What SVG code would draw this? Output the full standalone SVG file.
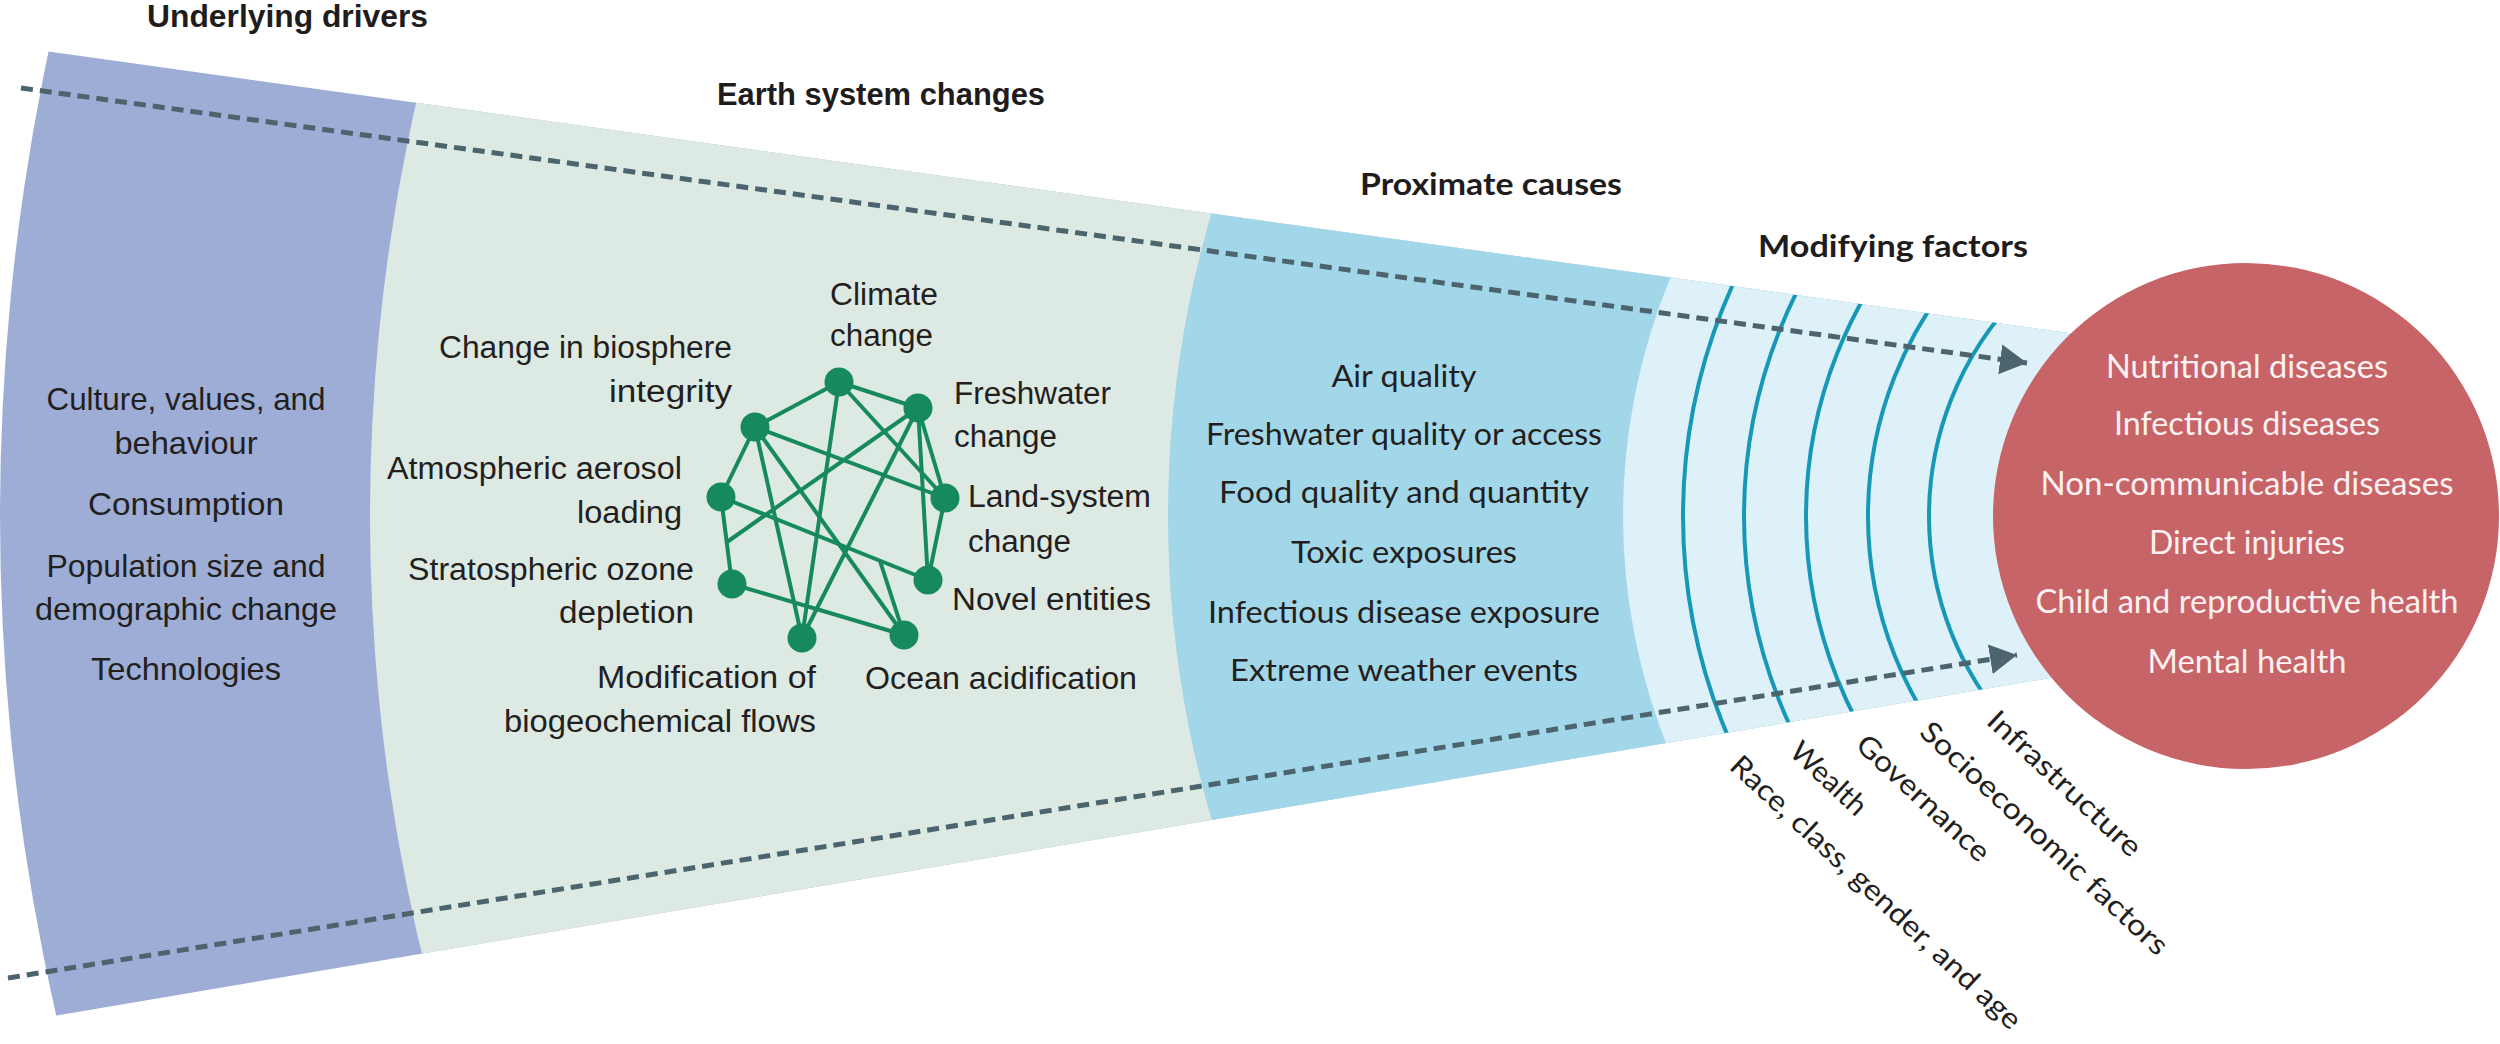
<svg xmlns="http://www.w3.org/2000/svg" width="2500" height="1044" viewBox="0 0 2500 1044">
<defs>
<style>
.hl{font-family:"Liberation Sans",Arial,sans-serif;font-weight:700;font-size:32px;fill:#1f1c1d}
.hr{font-family:Lato,"DejaVu Sans",sans-serif;font-weight:700;font-size:31px;fill:#1f1c1d}
.lt{font-family:"Liberation Sans",Arial,sans-serif;font-size:32px;fill:#231f20}
.et{font-family:"Liberation Sans",Arial,sans-serif;font-size:31px;fill:#231f20}
.rt{font-family:Lato,"DejaVu Sans",sans-serif;font-size:31px;fill:#231f20;text-anchor:middle}
.ct{font-family:Lato,"DejaVu Sans",sans-serif;font-size:32px;fill:#fdf1f1;text-anchor:middle}
.bt{font-family:Lato,"DejaVu Sans",sans-serif;font-size:29px;fill:#231f20}
.mid{text-anchor:middle}
.end{text-anchor:end}
.dash{fill:none;stroke:#4b646e;stroke-width:5;stroke-dasharray:12 7}
.arc{fill:none;stroke:#1698b7;stroke-width:4}
.edge{stroke:#16895f;stroke-width:4;fill:none}
.node{fill:#16895f}
</style>
<clipPath id="funnelClip">
<polygon points="0,44.8 2246,357.7 2246,644.7 0,1025.1"/>
</clipPath>
<marker id="arrow" markerUnits="userSpaceOnUse" markerWidth="30" markerHeight="32" refX="27" refY="15" orient="auto">
<path d="M0,0 L27,15 L0,30 Z" fill="#4b646e"/>
</marker>
</defs>
<rect x="0" y="0" width="2500" height="1044" fill="#ffffff"/>

<g id="funnel" clip-path="url(#funnelClip)">
<circle id="band-drivers" cx="2246" cy="516" r="2246" fill="#9dadd5"/>
<circle id="band-earth" cx="2246" cy="516" r="1876" fill="#dde9e3"/>
<circle id="band-proximate" cx="2246" cy="516" r="1078" fill="#a2d7e9"/>
<circle id="band-modifying" cx="2246" cy="516" r="623" fill="#def0f8"/>
<g id="modifier-arcs">
<circle class="arc" cx="2246" cy="516" r="563"/>
<circle class="arc" cx="2246" cy="516" r="502"/>
<circle class="arc" cx="2246" cy="516" r="440"/>
<circle class="arc" cx="2246" cy="516" r="378"/>
<circle class="arc" cx="2246" cy="516" r="317"/>
</g>
</g>

<g id="connectors">
<line class="dash" x1="21" y1="88" x2="2027" y2="363" marker-end="url(#arrow)"/>
<line class="dash" x1="8" y1="978" x2="2017" y2="655" marker-end="url(#arrow)"/>
</g>

<g id="headings">
<text class="hl" x="147" y="27" textLength="281" lengthAdjust="spacingAndGlyphs">Underlying drivers</text>
<text class="hl" x="717" y="105" textLength="328" lengthAdjust="spacingAndGlyphs">Earth system changes</text>
<text class="hr" x="1360" y="195" textLength="262" lengthAdjust="spacingAndGlyphs">Proximate causes</text>
<text class="hr" x="1758" y="257" textLength="270" lengthAdjust="spacingAndGlyphs">Modifying factors</text>
</g>

<g id="underlying-drivers">
<text class="lt mid" x="186" y="410" textLength="279" lengthAdjust="spacingAndGlyphs">Culture, values, and</text>
<text class="lt mid" x="186" y="454" textLength="143" lengthAdjust="spacingAndGlyphs">behaviour</text>
<text class="lt mid" x="186" y="515" textLength="196" lengthAdjust="spacingAndGlyphs">Consumption</text>
<text class="lt mid" x="186" y="577" textLength="279" lengthAdjust="spacingAndGlyphs">Population size and</text>
<text class="lt mid" x="186" y="620" textLength="302" lengthAdjust="spacingAndGlyphs">demographic change</text>
<text class="lt mid" x="186" y="680" textLength="190" lengthAdjust="spacingAndGlyphs">Technologies</text>
</g>

<g id="earth-network">
<g id="network-edges">
<line class="edge" x1="839" y1="382" x2="755" y2="427"/>
<line class="edge" x1="839" y1="382" x2="918" y2="408"/>
<line class="edge" x1="839" y1="382" x2="802" y2="638"/>
<line class="edge" x1="839" y1="382" x2="945" y2="498"/>
<line class="edge" x1="755" y1="427" x2="721" y2="497"/>
<line class="edge" x1="755" y1="427" x2="945" y2="498"/>
<line class="edge" x1="755" y1="427" x2="802" y2="638"/>
<line class="edge" x1="755" y1="427" x2="904" y2="635"/>
<line class="edge" x1="918" y1="408" x2="727" y2="542"/>
<line class="edge" x1="918" y1="408" x2="802" y2="638"/>
<line class="edge" x1="918" y1="408" x2="945" y2="498"/>
<line class="edge" x1="918" y1="408" x2="928" y2="580"/>
<line class="edge" x1="721" y1="497" x2="732" y2="584"/>
<line class="edge" x1="721" y1="497" x2="928" y2="580"/>
<line class="edge" x1="732" y1="584" x2="904" y2="635"/>
<line class="edge" x1="945" y1="498" x2="928" y2="580"/>
<line class="edge" x1="880" y1="561" x2="904" y2="635"/>
</g>
<g id="node-climate"><circle class="node" cx="839" cy="382" r="14.5"/>
<text class="et" x="830" y="305" textLength="108" lengthAdjust="spacingAndGlyphs">Climate</text>
<text class="et" x="830" y="346" textLength="103" lengthAdjust="spacingAndGlyphs">change</text></g>
<g id="node-biosphere"><circle class="node" cx="755" cy="427" r="14.5"/>
<text class="et end" x="732" y="358" textLength="293" lengthAdjust="spacingAndGlyphs">Change in biosphere</text>
<text class="et end" x="732" y="402" textLength="123" lengthAdjust="spacingAndGlyphs">integrity</text></g>
<g id="node-freshwater"><circle class="node" cx="918" cy="408" r="14.5"/>
<text class="et" x="954" y="404" textLength="157" lengthAdjust="spacingAndGlyphs">Freshwater</text>
<text class="et" x="954" y="447" textLength="103" lengthAdjust="spacingAndGlyphs">change</text></g>
<g id="node-aerosol"><circle class="node" cx="721" cy="497" r="14.5"/>
<text class="et end" x="682" y="479" textLength="295" lengthAdjust="spacingAndGlyphs">Atmospheric aerosol</text>
<text class="et end" x="682" y="523" textLength="105" lengthAdjust="spacingAndGlyphs">loading</text></g>
<g id="node-land"><circle class="node" cx="945" cy="498" r="14.5"/>
<text class="et" x="968" y="507" textLength="183" lengthAdjust="spacingAndGlyphs">Land-system</text>
<text class="et" x="968" y="552" textLength="103" lengthAdjust="spacingAndGlyphs">change</text></g>
<g id="node-ozone"><circle class="node" cx="732" cy="584" r="14.5"/>
<text class="et end" x="694" y="580" textLength="286" lengthAdjust="spacingAndGlyphs">Stratospheric ozone</text>
<text class="et end" x="694" y="623" textLength="135" lengthAdjust="spacingAndGlyphs">depletion</text></g>
<g id="node-novel"><circle class="node" cx="928" cy="580" r="14.5"/>
<text class="et" x="952" y="610" textLength="199" lengthAdjust="spacingAndGlyphs">Novel entities</text></g>
<g id="node-biogeochemical"><circle class="node" cx="802" cy="638" r="14.5"/>
<text class="et end" x="816" y="688" textLength="219" lengthAdjust="spacingAndGlyphs">Modification of</text>
<text class="et end" x="816" y="732" textLength="312" lengthAdjust="spacingAndGlyphs">biogeochemical flows</text></g>
<g id="node-ocean"><circle class="node" cx="904" cy="635" r="14.5"/>
<text class="et" x="865" y="689" textLength="272" lengthAdjust="spacingAndGlyphs">Ocean acidification</text></g>
</g>

<g id="proximate-causes">
<text class="rt" x="1404" y="387" textLength="145" lengthAdjust="spacingAndGlyphs">Air quality</text>
<text class="rt" x="1404" y="445" textLength="396" lengthAdjust="spacingAndGlyphs">Freshwater quality or access</text>
<text class="rt" x="1404" y="503" textLength="370" lengthAdjust="spacingAndGlyphs">Food quality and quantity</text>
<text class="rt" x="1404" y="563" textLength="226" lengthAdjust="spacingAndGlyphs">Toxic exposures</text>
<text class="rt" x="1404" y="623" textLength="392" lengthAdjust="spacingAndGlyphs">Infectious disease exposure</text>
<text class="rt" x="1404" y="681" textLength="348" lengthAdjust="spacingAndGlyphs">Extreme weather events</text>
</g>

<g id="modifying-factors">
<text class="bt" transform="translate(1728,768) rotate(43)" textLength="386" lengthAdjust="spacingAndGlyphs">Race, class, gender, and age</text>
<text class="bt" transform="translate(1788,754) rotate(43)" textLength="93" lengthAdjust="spacingAndGlyphs">Wealth</text>
<text class="bt" transform="translate(1854,747) rotate(43)" textLength="171" lengthAdjust="spacingAndGlyphs">Governance</text>
<text class="bt" transform="translate(1918,734) rotate(43)" textLength="327" lengthAdjust="spacingAndGlyphs">Socioeconomic factors</text>
<text class="bt" transform="translate(1985,723) rotate(43)" textLength="199" lengthAdjust="spacingAndGlyphs">Infrastructure</text>
</g>

<g id="health-outcomes">
<circle cx="2246" cy="516" r="253" fill="#c76468"/>
<text class="ct" x="2247" y="378" textLength="282" lengthAdjust="spacingAndGlyphs">Nutritional diseases</text>
<text class="ct" x="2247" y="435" textLength="266" lengthAdjust="spacingAndGlyphs">Infectious diseases</text>
<text class="ct" x="2247" y="495" textLength="413" lengthAdjust="spacingAndGlyphs">Non-communicable diseases</text>
<text class="ct" x="2247" y="554" textLength="196" lengthAdjust="spacingAndGlyphs">Direct injuries</text>
<text class="ct" x="2247" y="613" textLength="423" lengthAdjust="spacingAndGlyphs">Child and reproductive health</text>
<text class="ct" x="2247" y="673" textLength="199" lengthAdjust="spacingAndGlyphs">Mental health</text>
</g>
</svg>
